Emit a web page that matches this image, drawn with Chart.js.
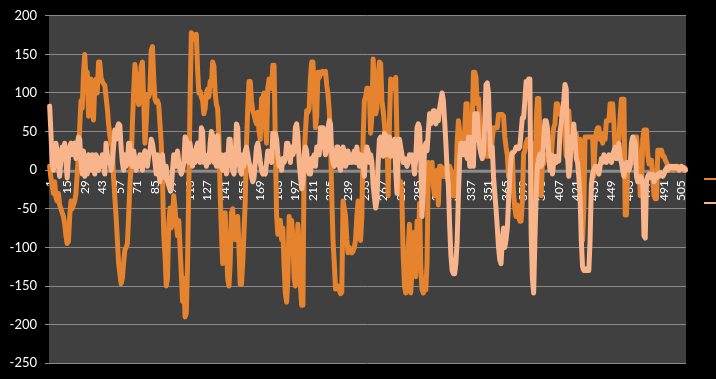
<!DOCTYPE html>
<html><head><meta charset="utf-8">
<script src="https://cdn.jsdelivr.net/npm/chart.js@4/dist/chart.umd.min.js"></script>
<style>html,body{margin:0;padding:0;background:#000;overflow:hidden}#wrap{width:716px;height:379px;position:relative}</style>
</head><body><div id="wrap"><canvas id="c" width="716" height="379"></canvas></div>
<script>
const seriesNames = ['', ''];
const seriesA = [
5, -10, -20, -30, -15, -35, -40, -30, -45, -50,
-55, -60, -70, -85, -95, -92, -60, -40, -50, -45,
-40, -30, -5, 20, 55, 90, 80, 125, 150, 120,
127, 70, 105, 118, 75, 65, 110, 118, 100, 140,
140, 120, 115, 112, 110, 95, 80, 60, 45, 35,
30, -10, -35, -60, -90, -120, -134, -147, -140, -120,
-103, -100, -95, -60, -20, 5, 60, 100, 137, 120,
95, 85, 110, 135, 140, 90, 35, 60, 98, 95,
100, 155, 160, 120, 92, 88, 90, 85, 60, 35,
-10, -83, -110, -150, -140, -70, -49, -75, -60, -33,
-50, -70, -85, -65, -100, -134, -170, -140, -190, -185,
-120, -20, 90, 178, 176, 170, 175, 176, 130, 100,
102, 95, 90, 73, 80, 100, 105, 95, 115, 110,
140, 135, 100, 85, 80, 43, -30, -80, -121, -115,
-55, -100, -140, -150, -120, -55, -50, -80, -90, -70,
-60, -100, -148, -148, -120, -80, -40, 35, 80, 115,
115, 90, 77, 72, 65, 60, 75, 50, 40, 93,
93, 100, 60, 35, 106, 118, 110, 106, 136, 136,
35, -58, -83, -70, -65, -90, -75, -125, -160, -171,
-140, -60, -75, -65, -90, -140, -150, -110, -70, -100,
-150, -175, -175, 20, 50, 77, 75, 80, 120, 140,
140, 100, 55, 70, 127, 120, 127, 125, 128, 127,
128, 110, 98, 77, 40, -33, -91, -120, -154, -150,
-150, -155, -160, -158, -40, -49, -60, -90, -107, -100,
-105, -107, -105, -100, -90, -60, -40, -50, -91, -60,
40, 90, 95, 106, 106, 100, 48, 70, 144, 110,
73, 80, 120, 140, 138, 90, 77, 60, 35, 50,
-33, 60, 118, 110, 106, 112, 120, 43, -10, -15,
-15, -40, -112, -150, -159, -140, -100, -70, -159, -130,
-129, -80, -138, -66, -110, -43, -125, -155, -159, -150,
-155, -120, 10, -8, 5, 10, -20, -33, -10, 0,
-45, 5, 5, 3, -8, -8, -5, 5, -15, 5,
0, -15, -33, -33, -20, 35, 64, 50, 40, 35,
35, 50, 86, 86, 35, 20, 5, 60, 127, 127,
120, 86, 93, 60, 35, 45, 21, 43, 30, 18,
25, 18, 18, 40, 55, 55, 55, 55, 72, 72,
72, 72, 70, 43, 30, 20, -8, 10, 21, 21,
-30, -50, -60, -45, -60, -66, -66, -40, 21, 25,
35, 40, 35, 30, 35, 35, -20, -49, 60, 93,
93, 40, -33, 10, 8, 15, 20, 15, 15, 15,
15, 40, 55, 60, 86, 86, 80, 72, 72, 70,
65, 40, 18, 40, 77, 50, 30, 43, 43, 43,
47, 30, 21, 40, -33, -91, -50, 43, 43, 43,
43, 43, 43, 43, -8, 35, 50, 55, 55, 40,
45, 35, 47, 40, 64, 64, 64, 86, 86, 86,
60, 21, 30, 43, 40, 70, 92, 92, 92, -58,
-58, 8, 5, 10, 13, 10, 43, 43, 43, 20,
21, -33, -20, 40, 52, 52, 52, 20, 8, 13,
13, -10, -33, -37, -37, 26, 26, 26, 26, 18,
18, 13, 10, 5, 5, 3, 2, 0, 3, 5,
3, 5, 3, 5, 2, 3, 0, 2
];
const seriesB = [
83, 50, 10, 0, 20, 35, 25, 5, -8, 15,
30, 25, 35, 10, -10, 15, 30, 35, 20, 30,
35, 15, 30, 43, 40, 10, -5, 25, -8, 10,
-5, 20, 15, 0, 20, 10, -5, 20, 15, 0,
15, 5, 20, 10, -5, 35, 20, 10, 15, 0,
10, 30, 52, 40, 55, 60, 58, 30, 10, 0,
20, 5, 10, 35, 35, 10, 5, 25, 15, 0,
15, 5, 20, 10, 0, 20, 25, 15, 5, 20,
25, 40, 35, 23, 10, -5, 20, 0, -15, 10,
20, 0, -10, 5, -15, -20, -25, -25, 0, 20,
20, 5, 25, 10, 0, -5, 0, 10, 43, 40,
30, 10, 35, 20, 5, 25, 10, 30, 35, 15,
10, 55, 50, 10, 20, 5, 15, 10, 35, 50,
45, 10, 20, 5, 45, 15, 5, 20, 0, 10,
20, -5, 10, 40, 40, 10, 0, -5, 15, 60,
55, 10, 0, -5, 20, 5, 25, 30, 20, 10,
5, -8, -15, -10, 10, 30, 35, 25, 10, 0,
-5, 0, -5, 10, 25, 15, 20, 10, 48, 48,
48, 40, 20, 5, 10, 0, 15, 10, 15, 35,
35, 25, 10, 30, 20, 25, 55, 60, 45, 10,
-8, -24, -15, 20, 30, 25, 0, -5, -5, 15,
15, 20, 5, 30, 25, 20, 55, 55, 55, 30,
20, 25, 55, 64, 60, 20, 10, 5, 10, 30,
30, 5, 0, 15, 30, 25, 5, 10, 25, 10,
20, 10, 15, 25, 10, 30, 15, 5, 20, 10,
5, -8, 20, 30, 25, 10, 20, 10, -20, -35,
-49, -40, 10, 40, 43, 25, 18, 48, 45, 20,
30, 43, 18, 35, 30, 40, 0, -30, 40, 40,
30, 20, 10, 15, 10, 5, 10, 20, 15, 20,
10, -5, 15, 55, 60, 55, 10, -60, -30, 30,
35, 25, 50, 73, 60, 73, 77, 77, 60, 70,
64, 80, 90, 100, 90, 64, 35, 0, -20, -71,
-110, -130, -134, -134, -120, -91, -33, 15, 35, 25,
20, 35, 25, 15, 43, 5, 20, 43, 5, 73,
73, 73, 43, 30, 21, 15, 21, 60, 111, 113,
100, 43, 18, 30, -8, -30, -50, -74, -100, -116,
-121, -91, -75, -100, -90, -75, -40, -8, 15, 23,
23, 25, 30, 30, 28, 30, 50, 68, 68, 90,
115, 115, 118, 118, -80, -140, -159, -91, -33, 5,
15, 21, 5, 10, 40, 64, 64, 55, 20, 0,
20, -5, 10, 18, 10, 15, 12, 50, 60, 77,
90, 111, 105, 18, -8, 5, 43, 35, 60, 40,
15, 10, -8, -33, -91, -125, -130, -130, -128, -130,
-130, -91, -20, -5, 0, 5, 5, 0, -5, 5,
15, 10, 20, 15, 10, 15, 20, 15, 10, 20,
25, 30, 15, 20, 35, 15, 10, 0, -8, 5,
10, 5, 0, 5, 35, 43, 40, 35, -8, -15,
-15, -8, -10, -15, -85, -88, -15, -8, -5, -8,
-10, -5, -15, -8, -10, -5, -8, -3, -5, -8,
-5, 0, 3, 0, 5, 3, 5, 3, 5, 3,
5, 3, 0, 3, 5, 2, 3, 0
];
const categories = seriesA.map((_, i) => String(i + 1));
const tickEvery = 14;
const yMin = -250, yMax = 200, yStep = 50;

const colorA = '#E5832F';
const colorB = '#F8B48A';

const bgPlugin = {
  id: 'bg',
  beforeDraw(chart) {
    const {ctx, chartArea: a} = chart;
    ctx.save();
    ctx.fillStyle = '#000';
    ctx.fillRect(0, 0, chart.width, chart.height);
    ctx.fillStyle = '#404040';
    ctx.fillRect(a.left, a.top, a.right - a.left, a.bottom - a.top);
    ctx.restore();
  },
  beforeDatasetsDraw(chart) {
    const {ctx, chartArea: a} = chart;
    const y0 = chart.scales.y.getPixelForValue(0);
    ctx.save();
    ctx.strokeStyle = '#8c8c8c';
    ctx.lineWidth = 3;
    ctx.beginPath();
    ctx.moveTo(a.left, y0 + 1);
    ctx.lineTo(a.right, y0 + 1);
    ctx.stroke();
    ctx.restore();
  }
};
const legendPlugin = {
  id: 'lg',
  afterDraw(chart) {
    const ctx = chart.ctx;
    ctx.save();
    ctx.lineWidth = 2;
    [[colorA, 179], [colorB, 203]].forEach(([c, y]) => {
      ctx.strokeStyle = c;
      ctx.beginPath();
      ctx.moveTo(704, y);
      ctx.lineTo(716, y);
      ctx.stroke();
    });
    ctx.restore();
  }
};

new Chart(document.getElementById('c'), {
  type: 'line',
  data: {
    labels: categories,
    datasets: [
      {label: seriesNames[0], data: seriesA, borderColor: colorA, borderWidth: 5, pointRadius: 0,
       borderJoinStyle: 'round', borderCapStyle: 'round', tension: 0, order: 1},
      {label: seriesNames[1], data: seriesB, borderColor: colorB, borderWidth: 5, pointRadius: 0,
       borderJoinStyle: 'round', borderCapStyle: 'round', tension: 0, order: 0}
    ]
  },
  options: {
    responsive: false,
    animation: false,
    events: [],
    layout: {padding: {left: 0, right: 30, top: 12, bottom: 10}},
    plugins: {legend: {display: false}, tooltip: {enabled: false}},
    scales: {
      x: {
        type: 'category',
        position: {y: 0},
        offset: true,
        z: 1,
        grid: {display: false, drawTicks: false},
        border: {display: false},
        ticks: {
          autoSkip: false, maxRotation: 90, minRotation: 90,
          color: '#ffffff', font: {family: 'Lato', size: 12}, padding: 10,
          callback: (v, i) => (i % tickEvery === 0 ? categories[i] : null)
        }
      },
      y: {
        min: yMin, max: yMax,
        ticks: {stepSize: yStep, color: '#ffffff', font: {family: 'Lato', size: 13}, padding: 8},
        grid: {color: '#8a8a8a', lineWidth: 1, tickLength: 4, drawTicks: true},
        border: {display: false},
        afterFit(s) { s.width = 49; }
      }
    }
  },
  plugins: [bgPlugin, legendPlugin]
});
</script>
</body></html>
